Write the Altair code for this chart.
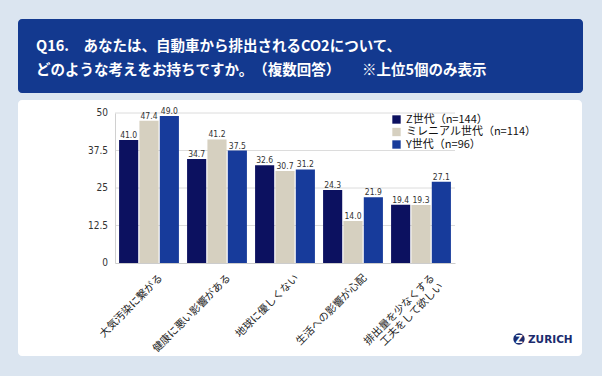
import altair as alt
import pandas as pd

categories = ["大気汚染に繋がる", "健康に悪い影響がある", "地球に優しくない", "生活への影響が心配", "排出量を少なくする\n工夫をして欲しい"]
series = ["Z世代（n=144）", "ミレニアル世代（n=114）", "Y世代（n=96）"]
z_vals = [41.0, 34.7, 32.6, 24.3, 19.4]
m_vals = [47.4, 41.2, 30.7, 14.0, 19.3]
y_vals = [49.0, 37.5, 31.2, 21.9, 27.1]
y_ticks = [0, 12.5, 25, 37.5, 50]
y_tick_labels = ["0", "12.5", "25", "37.5", "50"]
colors = ["#0c1160", "#d6d0c0", "#173b9b"]

title1 = "Q16.　あなたは、自動車から排出されるCO2について、"
title2 = "どのような考えをお持ちですか。　（複数回答）　　※上位5個のみ表示"

rows = []
for s, vals in zip(series, [z_vals, m_vals, y_vals]):
    for c, v in zip(categories, vals):
        rows.append({"cat": c, "series": s, "value": v})
df = pd.DataFrame(rows)

W, H = 340, 150
OX, OY = 115, 113
JP = "Noto Sans CJK JP"

one = alt.Data(values=[{}])

panel = alt.Chart(one).mark_rect(color="white", cornerRadius=4).encode(
    x=alt.value(18 - OX), x2=alt.value(582 - OX),
    y=alt.value(100 - OY), y2=alt.value(356 - OY))

title_box = alt.Chart(one).mark_rect(color="#13398f", cornerRadius=4).encode(
    x=alt.value(18 - OX), x2=alt.value(583 - OX),
    y=alt.value(19 - OY), y2=alt.value(93 - OY))

t1 = alt.Chart(one).mark_text(align="left", baseline="middle", font=JP, fontSize=14.5,
                              fontWeight="bold", color="white").encode(
    x=alt.value(36 - OX), y=alt.value(47 - OY), text=alt.value(title1))
t2 = alt.Chart(one).mark_text(align="left", baseline="middle", font=JP, fontSize=14.5,
                              fontWeight="bold", color="white").encode(
    x=alt.value(36 - OX), y=alt.value(71 - OY), text=alt.value(title2))

logo = alt.Chart(one).mark_point(filled=True, shape="circle", size=130, color="#1b2b6e", opacity=1).encode(
    x=alt.value(519 - OX), y=alt.value(339 - OY))
logo_z = alt.Chart(one).mark_text(font="DejaVu Sans", fontSize=10, fontWeight="bold", color="white").encode(
    x=alt.value(519 - OX), y=alt.value(339.5 - OY), text=alt.value("Z"))
logo_t = alt.Chart(one).mark_text(align="left", font="DejaVu Sans", fontSize=10.5, fontWeight="bold",
                                  color="#1b2b6e").encode(
    x=alt.value(528 - OX), y=alt.value(339.5 - OY), text=alt.value("ZURICH"))

yscale = alt.Scale(domain=[0, 50], nice=False)
yaxis = alt.Axis(values=y_ticks, labels=False, grid=False, ticks=False, zindex=1,
                 domainColor="#d0d0d0")

tick_df = pd.DataFrame({"g": y_ticks, "lab": y_tick_labels})

grid = alt.Chart(tick_df).transform_filter("datum.g > 0").mark_rule(
    color="#dcdcdc", strokeWidth=1).encode(
    y=alt.Y("g:Q", scale=yscale, title=None, axis=yaxis))

ylabels = alt.Chart(tick_df).mark_text(align="right", baseline="middle", font="DejaVu Sans Condensed",
                                       fontSize=10, color="#333").encode(
    y=alt.Y("g:Q", scale=yscale), x=alt.value(-7), text="lab:N")

xenc = alt.X("cat:N", sort=categories, title=None,
             scale=alt.Scale(paddingInner=0.12, paddingOuter=0.06),
             axis=alt.Axis(labelAngle=-45, labelAlign="right", labelBaseline="middle",
                           labelExpr="split(datum.label, '\\n')", labelFont=JP,
                           labelFontSize=10.5, labelColor="#222", labelPadding=13,
                           labelOffset=12, labelLineHeight=12, ticks=False, domainColor="#cccccc",
                           labelLimit=200, labelOverlap=False, zindex=1))

yenc = alt.Y("value:Q", title=None, scale=yscale, axis=yaxis)

bars = alt.Chart(df).mark_bar().encode(
    x=xenc, y=yenc,
    xOffset=alt.XOffset("series:N", sort=series, scale=alt.Scale(paddingInner=0.06)),
    color=alt.Color("series:N", sort=series, scale=alt.Scale(domain=series, range=colors),
                    legend=alt.Legend(orient="none", legendX=276, legendY=1, title=None,
                                      symbolType="square", symbolSize=70, symbolStrokeWidth=0,
                                      labelFont=JP, labelFontSize=11, labelColor="#111",
                                      rowPadding=0.5, symbolOpacity=1, zindex=1)))

labels = alt.Chart(df).mark_text(dy=-5, font="DejaVu Sans Condensed", fontSize=8.5,
                                 color="#333").encode(
    x=alt.X("cat:N", sort=categories),
    xOffset=alt.XOffset("series:N", sort=series),
    y="value:Q",
    text=alt.Text("value:Q", format=".1f"))

chart = alt.layer(panel, title_box, t1, t2, logo, logo_z, logo_t, grid, ylabels, bars, labels).resolve_scale(
    y="shared").properties(
    width=W, height=H, background="#dbe5f0",
    padding={"left": OX, "top": OY, "right": 602 - OX - W, "bottom": 376 - OY - H},
    autosize=alt.AutoSizeParams(type="none")
).configure_view(stroke=None)

chart.save("out.html", embed_options={"renderer": "svg", "actions": False})
